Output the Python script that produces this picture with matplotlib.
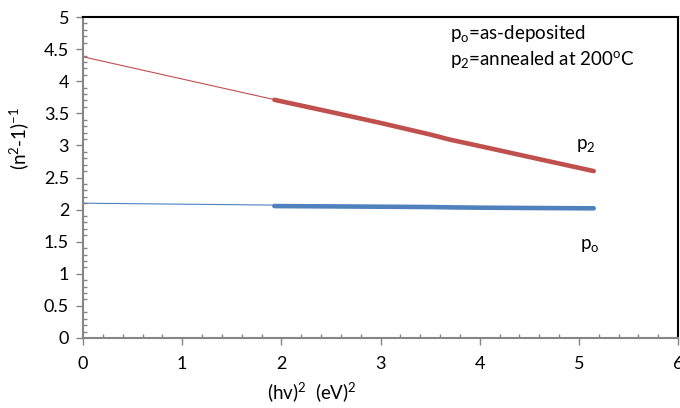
import matplotlib
matplotlib.use("Agg")
import matplotlib.pyplot as plt
import numpy as np
from matplotlib.ticker import MultipleLocator

plt.rcParams['font.family'] = ['Lato', 'DejaVu Sans']
plt.rcParams['mathtext.default'] = 'regular'

# data
x_data = [1.93, 2.5, 3.0, 3.5, 3.7, 4.0, 4.5, 5.15]
p2_data = [3.71, 3.52, 3.35, 3.17, 3.09, 2.99, 2.82, 2.60]
po_data = [2.055, 2.05, 2.045, 2.04, 2.035, 2.03, 2.025, 2.02]
fit_x = [0, 5.15]
p2_fit = [4.38, 2.60]
po_fit = [2.10, 2.02]

red = '#C0504D'
blue = '#4F81BD'

fig = plt.figure(figsize=(6.8, 4.08), dpi=100)
ax = fig.add_axes([83/680, 1-338/408, (678-83)/680, (338-17)/408])

ax.plot(fit_x, p2_fit, color=red, lw=0.8, zorder=2)
ax.plot(fit_x, po_fit, color=blue, lw=0.8, zorder=2)
ax.plot(x_data, p2_data, color=red, lw=3.3, solid_capstyle='round', zorder=3)
ax.plot(x_data, po_data, color=blue, lw=3.3, solid_capstyle='round', zorder=3)

ax.set_xlim(0, 6)
ax.set_ylim(0, 5)
ax.xaxis.set_major_locator(MultipleLocator(1))
ax.xaxis.set_minor_locator(MultipleLocator(0.2))
ax.yaxis.set_minor_locator(MultipleLocator(0.1))
ax.set_yticks(np.arange(0, 5.01, 0.5))
ax.set_yticklabels(['0', '0.5', '1', '1.5', '2', '2.5', '3', '3.5', '4', '4.5', '5'])

grey = '#868686'
for s in ['left', 'bottom']:
    ax.spines[s].set_color(grey)
    ax.spines[s].set_linewidth(1.5)
for s in ['top', 'right']:
    ax.spines[s].set_color('black')
    ax.spines[s].set_linewidth(1.5)

ax.tick_params(which='major', direction='out', length=5, color=grey, width=1,
               labelsize=13, pad=5)
ax.tick_params(which='minor', direction='in', length=3, color=grey, width=1)
ax.tick_params(axis='x', which='major', pad=8)

fig.text(19/680, 1-138/408, '(n$^2$-1)$^{-1}$', rotation=90, ha='center', va='center', fontsize=13.5)
fig.text(312/680, 1-392/408, '(hv)$^2$  (eV)$^2$', ha='center', va='center', fontsize=13.5)

fig.text(450/680, 1-33/408, 'p$_o$=as-deposited', ha='left', va='center', fontsize=13.5)
fig.text(450/680, 1-59/408, 'p$_2$=annealed at 200$^o$C', ha='left', va='center', fontsize=13.5)
fig.text(576/680, 1-146/408, 'p$_2$', ha='left', va='center', fontsize=13.5)
fig.text(580/680, 1-246/408, 'p$_o$', ha='left', va='center', fontsize=13.5)

fig.savefig('out.png', dpi=100)
